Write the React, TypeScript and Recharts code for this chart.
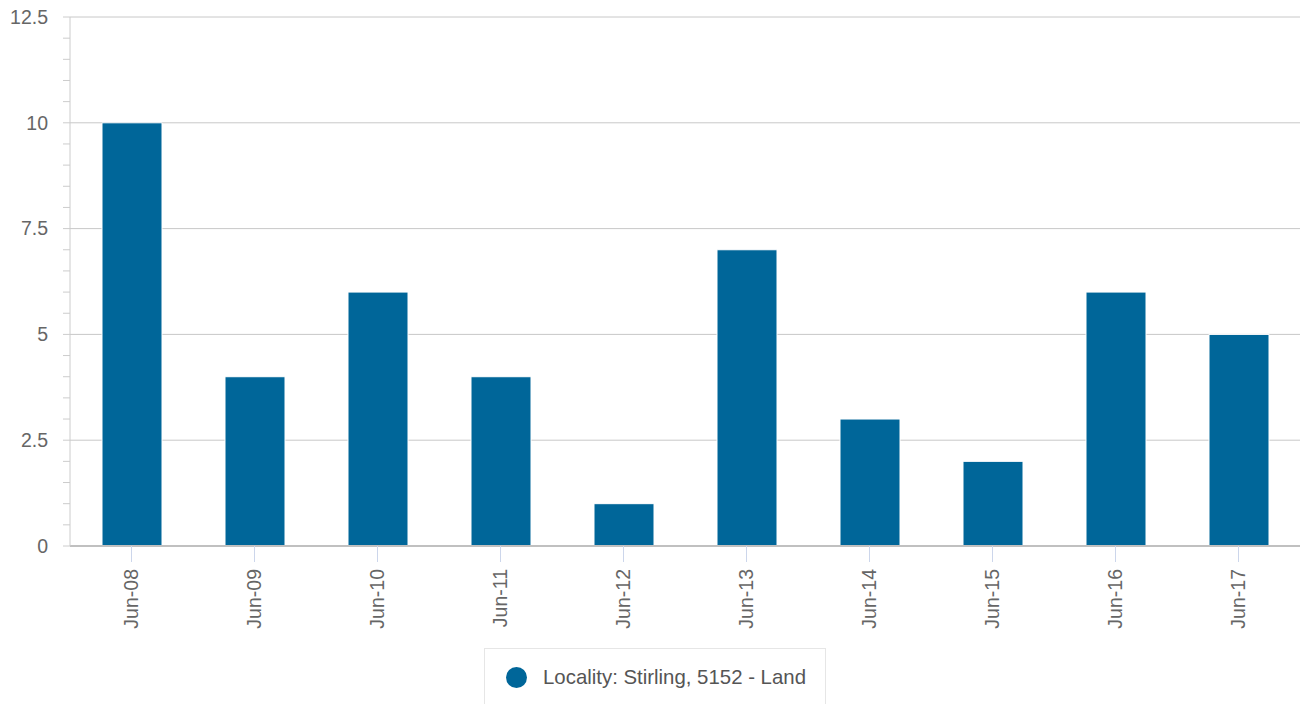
import { BarChart, Bar, XAxis, YAxis, CartesianGrid, Legend } from "recharts";

const categories = ["Jun-08", "Jun-09", "Jun-10", "Jun-11", "Jun-12", "Jun-13", "Jun-14", "Jun-15", "Jun-16", "Jun-17"];
const sales = [10, 4, 6, 4, 1, 7, 3, 2, 6, 5];
const yTicks = [0, 0.5, 1, 1.5, 2, 2.5, 3, 3.5, 4, 4.5, 5, 5.5, 6, 6.5, 7, 7.5, 8, 8.5, 9, 9.5, 10, 10.5, 11, 11.5, 12, 12.5];
const yLabels = [0, 2.5, 5, 7.5, 10, 12.5];
const seriesName = "Locality: Stirling, 5152 - Land";

const data = categories.map((label, i) => ({ label, value: sales[i] }));

const FONT = '"Liberation Sans", Arial, Helvetica, sans-serif';
const BLUE = "#006699";

function YTick(props: any) {
  const { x, y, payload } = props;
  if (!yLabels.includes(payload.value)) return <g />;
  return (
    <text x={x} y={y} dy="0.35em" textAnchor="end" fontSize={19.5} fill="#666" fontFamily={FONT}>
      {payload.value}
    </text>
  );
}

function XTick(props: any) {
  const { x, y, payload } = props;
  return (
    <text
      x={x}
      y={y}
      dy="0.35em"
      textAnchor="end"
      transform={`rotate(-90 ${x} ${y})`}
      fontSize={19.5}
      fill="#666"
      fontFamily={FONT}
    >
      {payload.value}
    </text>
  );
}

function LegendBox() {
  return (
    <div
      style={{
        boxSizing: "border-box",
        width: 342,
        height: 58,
        border: "1px solid #e6e6e6",
        display: "flex",
        alignItems: "center",
        fontFamily: FONT,
      }}
    >
      <svg width={21} height={21} style={{ marginLeft: 21, flex: "none" }}>
        <circle cx={10.5} cy={10.5} r={10.5} fill={BLUE} />
      </svg>
      <span style={{ marginLeft: 16, fontSize: 20.4, color: "#555", whiteSpace: "nowrap" }}>{seriesName}</span>
    </div>
  );
}

export default function App() {
  return (
    <div style={{ width: 1300, height: 704, fontFamily: FONT }}>
      <style>{"body{margin:0}"}</style>
      <BarChart width={1300} height={704} data={data} margin={{ top: 17, right: 0, bottom: 0, left: 0 }}>
        <CartesianGrid vertical={false} stroke="#c8c8c8" horizontalValues={yLabels} />
        <XAxis
          dataKey="label"
          interval={0}
          tick={<XTick />}
          tickSize={16}
          tickMargin={7}
          height={100}
          axisLine={{ stroke: "#c0c0c0", strokeWidth: 2 }}
          tickLine={{ stroke: "#ccd6eb" }}
        />
        <YAxis
          domain={[0, 12.5]}
          ticks={yTicks}
          interval={0}
          width={70}
          tick={<YTick />}
          tickSize={7}
          tickMargin={15}
          axisLine={{ stroke: "#cccccc" }}
          tickLine={{ stroke: "#cccccc" }}
        />
        <Legend
          content={<LegendBox />}
          verticalAlign="bottom"
          wrapperStyle={{ left: 484, top: 648, bottom: "auto", width: 342 }}
        />
        <Bar dataKey="value" name={seriesName} fill={BLUE} stroke="#ffffff" strokeWidth={1} barSize={60} isAnimationActive={false} />
      </BarChart>
    </div>
  );
}
